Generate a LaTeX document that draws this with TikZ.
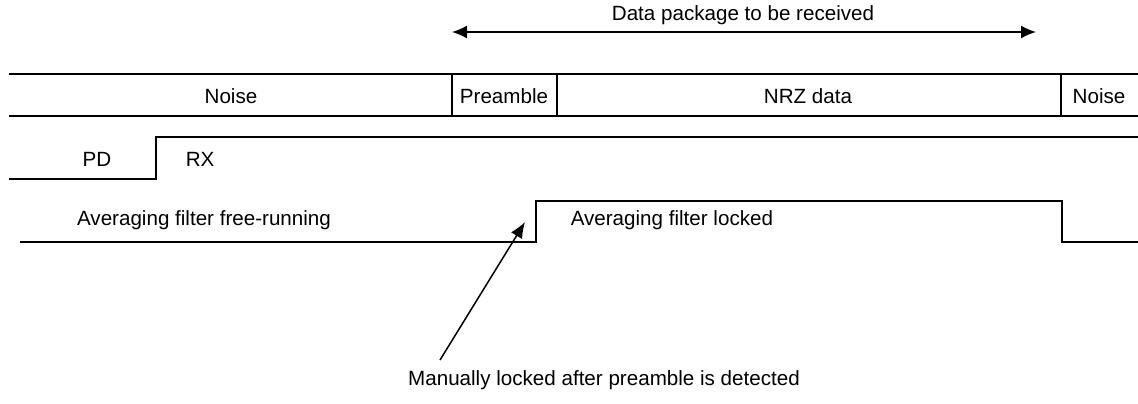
\documentclass[tikz,border=0pt]{standalone}
\usepackage{fontspec}
\setmainfont{Liberation Sans}
\usetikzlibrary{arrows.meta}
\newlength{\du}
\setlength{\du}{0.5pt}

\begin{document}
\begin{tikzpicture}[x=\du,y=-\du,line width=1.5\du,
  lbl/.style={inner sep=0pt,font=\fontsize{10.3}{12}\selectfont},
  tip/.style={-{Latex[length=8pt,width=6.5pt]}},
  twotip/.style={{Latex[length=7.5pt,width=6.5pt]}-{Latex[length=7.5pt,width=6.5pt]}}]
\useasboundingbox (0,0) rectangle (1138,403);
% package to be received
\coordinate (pkgL) at (452,32);
\coordinate (pkgR) at (1036,32);
\draw[twotip] (pkgL) -- (pkgR);
\node[lbl] (pkg) at (743,15) {Data package to be received};
% frame
\draw (9,74)--(1138,74);
\draw (9,116)--(1138,116);
\draw (452,74)--(452,116);
\draw (557,74)--(557,116);
\draw (1061,74)--(1061,116);
\node[lbl] (noise1) at (231,96) {Noise};
\node[lbl] (pre) at (504,96) {Preamble};
\node[lbl] (nrz) at (808,96) {NRZ data};
\node[lbl] (noise2) at (1099,96) {Noise};
% PD / RX
\draw (9,179)--(156,179)--(156,137)--(1138,137);
\node[lbl] (pd) at (97,159) {PD};
\node[lbl,anchor=west] (rx) at (185,159) {RX};
% averaging filter
\draw (20,242)--(536,242)--(536,201)--(1062,201)--(1062,242)--(1138,242);
\node[lbl] (free) at (204,220) {Averaging filter free-running};
\node[lbl,anchor=west] (lock) at (570,220) {Averaging filter locked};
% manual lock
\coordinate (lockpt) at (525,222);
\node[lbl] (manual) at (604,380) {Manually locked after preamble is detected};
\coordinate (mfoot) at (440,360);
\draw[tip] (mfoot) -- (lockpt);
\end{tikzpicture}
\end{document}
